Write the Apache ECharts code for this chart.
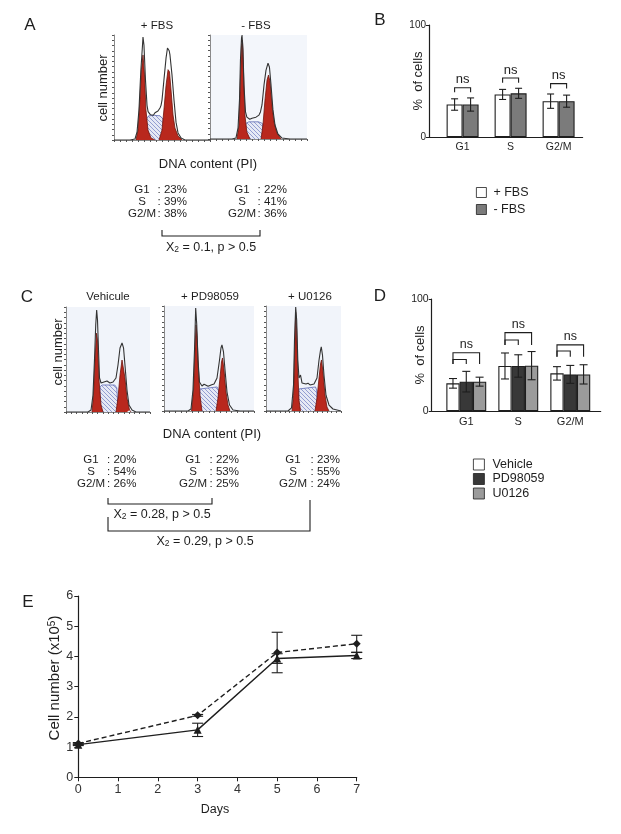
<!DOCTYPE html>
<html><head><meta charset="utf-8">
<script src="https://cdn.jsdelivr.net/npm/echarts@6/dist/echarts.min.js"></script>
<style>html,body{margin:0;padding:0;background:#fff}#c{width:621px;height:834px}</style>
</head><body><div id="c"></div>
<script>
// ---------------- DATA ----------------
// Flow-cytometry histograms: [DNA channel (0-100), cell count (0-100)]
const a1Outline = [[0,0],[16.7,0],[21.9,1],[24,7.6],[26,28.6],[28,66.7],[29.7,90.5],[30.2,98],[31.2,90.5],[32.8,57],[34.4,33],[35.5,27],[36.5,25.7],[38,24],[39.6,25],[41,23.5],[42.7,26],[44,25],[45.8,27.6],[47,27],[47.9,30.5],[49,33],[50,38],[52,57],[54.2,78],[55.7,87.6],[56.8,88],[57.5,85],[58.3,81],[60.4,62],[62.5,38],[64.6,17],[66.7,6.7],[69.8,2],[74,0],[100,0]];
const a1G1 = [[22.9,0],[25,9.5],[27,38],[28.6,67],[30.2,81],[31.8,62],[33.3,28.6],[35.4,9.5],[38.5,2],[42.7,0]];
const a1S = [[33,0],[34,20],[36,23],[42,23.5],[48,23],[51,20],[52.5,0]];
const a1G2 = [[46.9,0],[50,9.5],[52,28.6],[54.2,52],[56.3,67],[57.8,65],[59.4,47.6],[61.5,23.8],[63.5,11.4],[66.7,3.8],[70.8,0]];

const a2Outline = [[0,0],[22.7,0],[26.8,1],[28.9,10.6],[30.4,37.5],[31.4,76],[32.5,97],[33,100],[34,85.6],[35,52],[36.6,26],[38,21],[39.2,20],[41,19],[43.3,20],[45,19.5],[47.4,21],[49,21.5],[50.5,23],[52,26],[53.6,32.7],[55.7,52],[57.7,66],[59.8,73],[61.3,69],[62.9,52],[64.9,28],[67,13.5],[70,4.8],[74,1],[82.5,0],[100,0]];
const a2G1 = [[27.8,0],[29.9,13.5],[31.4,57.7],[32.5,90],[33.5,95],[34.5,66],[36,23],[38,6.7],[41.2,0]];
const a2S = [[35.5,0],[37,15],[40,16.5],[50,16.5],[54,15],[55.5,0]];
const a2G2 = [[52.6,0],[54.6,13.5],[56.7,37.5],[58.8,56.7],[60.3,61.5],[61.9,55],[63.9,32.7],[66,16.3],[69,5.8],[73.2,0]];

const c1Outline = [[0,0],[26.2,0],[29.8,1.9],[32.1,16],[33.9,49.5],[35.4,82.9],[36.5,97],[37.5,87.6],[38.7,59],[39.9,32.4],[41.7,27.6],[43.5,29],[45.2,28.6],[47,30.5],[48.8,29.5],[50.5,28],[52.4,27.6],[54,29],[56,28.6],[59.5,32.4],[61.9,44.8],[64.3,61],[66.7,65.7],[68.5,61],[70.2,44.8],[72.6,21],[75,6.7],[78.6,1.9],[83.3,0],[100,0]];
const c1G1 = [[31,0],[32.7,16],[34.5,49.5],[36.3,75],[37.5,68.6],[39.3,30.5],[41.7,6.7],[44,0]];
const c1S = [[39.5,0],[40.5,24],[43,25.7],[58,25.7],[60.5,23],[62,0]];
const c1G2 = [[59.5,0],[61.9,13.3],[64.3,35],[66.7,49.5],[68.5,47.6],[70.2,32.4],[72.6,13.3],[75.6,1.9],[77.4,0]];

const c2Outline = [[0,0],[26.7,0],[30,1.9],[32.2,20],[33.9,58],[35.2,98],[36.4,82],[37.8,48.6],[39.4,27.6],[42.2,23.8],[44.5,25.5],[46.7,24.8],[49,23.5],[51.1,22.9],[53,25],[55.6,25.7],[58.9,31.4],[61.7,48.6],[63.3,60],[64.4,62.9],[66.1,56.2],[67.8,39],[70,18],[72.8,5.7],[76.7,1],[84.4,0],[100,0]];
const c2G1 = [[30.6,0],[32.8,20],[34.4,58],[35.6,82],[36.7,72],[38.3,39],[40,15],[42.2,0]];
const c2S = [[38.5,0],[40,21],[42,22.9],[59,22.9],[60.5,20],[62,0]];
const c2G2 = [[57.8,0],[60,12.4],[62.2,31.4],[63.9,46.7],[65,50.5],[66.7,39],[68.9,18],[71.1,5.7],[73.3,0]];

const c3Outline = [[0,0],[29.3,0],[34,2.9],[36.7,24.8],[38,67.6],[39.6,99],[40.9,86.7],[42.4,48.6],[44,31.4],[46,34.3],[48,26.7],[50.5,27],[53.3,25.7],[56,26.5],[58.7,24.8],[61,26],[64,25.7],[68,31.4],[70.7,48.6],[72.7,58],[73.7,61],[75.3,53.3],[77.3,34.3],[80,15],[84,5.7],[89.3,1.9],[100,0]];
const c3G1 = [[34.7,0],[36.7,15],[38.3,58],[39.6,94],[40.9,77],[42.4,39],[44,10.5],[46,0]];
const c3S = [[42.5,0],[44,21],[46,22.9],[66,22.9],[67.5,20],[69,0]];
const c3G2 = [[65.3,0],[68,12.4],[70.7,31.4],[72.7,44.8],[74,48.6],[76,37],[78.7,15],[81.3,3.8],[84,0]];

// Panel B
const phaseCats = ['G1','S','G2/M'];
const bPlusFBS = [29, 38, 32];
const bPlusFBSErr = [5.1, 4.5, 6.4];
const bMinusFBS = [29, 39, 32];
const bMinusFBSErr = [5.9, 4.5, 5.4];
const bBrackets = [[1,44,40,0,1,1],[2,52.7,48.5,0,1,1],[3,47.7,43.2,0,1,1]]; // [cat, level, leg, bar0, bar1, label]

// Panel D
const dVehicle = [24.7, 40.2, 33.6];
const dVehicleErr = [4.3, 11.6, 6];
const dPD = [26.2, 40.2, 32.7];
const dPDErr = [9.2, 10, 8];
const dU0126 = [26.2, 40.5, 32.7];
const dU0126Err = [4, 12.6, 8.6];
const dBrackets = [[1,46,42,0,1,0],[1,52,42,0,2,1],[2,63.4,59,0,1,0],[2,70,59,0,2,1],[3,53.6,48.5,0,1,0],[3,59,48.5,0,2,1]];

// Panel E
const eDays = [0, 3, 5, 7];
const eDashedMean = [1.12, 2.05, 4.13, 4.42];
const eDashedErr = [0.03, 0.03, 0.67, 0.28];
const eSolidMean = [1.08, 1.57, 3.93, 4.03];
const eSolidErr = [0.03, 0.22, 0.16, 0.1];

// ---------------- STYLE / BUILD ----------------
const FONT = 'Liberation Sans, Arial, Helvetica, sans-serif';
const INK = '#1e1e1e';

function hatchCanvas(){
  const c = document.createElement('canvas'); c.width = 4; c.height = 4;
  const g = c.getContext('2d');
  g.fillStyle = '#e6e9f5'; g.fillRect(0,0,4,4);
  g.strokeStyle = '#6f7cc2'; g.lineWidth = 0.7;
  g.beginPath(); g.moveTo(0,0); g.lineTo(4,4); g.moveTo(-1,3); g.lineTo(1,5); g.moveTo(3,-1); g.lineTo(5,1); g.stroke();
  return c;
}
const HATCH = {image: hatchCanvas(), repeat: 'repeat'};

const histPanels = [
  {o:a1Outline, g1:a1G1, s:a1S, g2:a1G2, grid:{left:114, top:35, width:96, height:105}, bg:'#ffffff'},
  {o:a2Outline, g1:a2G1, s:a2S, g2:a2G2, grid:{left:210, top:35, width:97, height:104}, bg:'#f3f6fb'},
  {o:c1Outline, g1:c1G1, s:c1S, g2:c1G2, grid:{left:66, top:307, width:84, height:105}, bg:'#f1f4fa'},
  {o:c2Outline, g1:c2G1, s:c2S, g2:c2G2, grid:{left:164, top:306, width:90, height:105}, bg:'#f1f4fa'},
  {o:c3Outline, g1:c3G1, s:c3S, g2:c3G2, grid:{left:266, top:306, width:75, height:105}, bg:'#f1f4fa'}
];

const grids = [], xAxes = [], yAxes = [], series = [];
histPanels.forEach((p, i) => {
  grids.push(Object.assign({show:true, backgroundColor:p.bg, borderWidth:0, outerBoundsMode:'none'}, p.grid));
  const ax = (interval) => ({gridIndex:i, type:'value', min:0, max:100, interval:interval,
    axisLine:{show:true, onZero:false, lineStyle:{color:'#8a8a8a', width:1}},
    axisTick:{show:true, length:2, lineStyle:{color:'#555', width:1}},
    axisLabel:{show:false}, splitLine:{show:false}});
  xAxes.push(ax(6.25)); yAxes.push(ax(5));
  const area = (name, data, fill, stroke, z) => ({type:'line', name, data, xAxisIndex:i, yAxisIndex:i,
    symbol:'none', silent:true, z, lineStyle:{color:stroke, width:0.8}, areaStyle:{color:fill, opacity:1}});
  series.push(area('S'+i, p.s, HATCH, '#5f6bb5', 2));
  series.push(area('G1'+i, p.g1, '#b9281d', '#6e140d', 3));
  series.push(area('G2'+i, p.g2, '#b9281d', '#6e140d', 3));
  series.push({type:'line', name:'out'+i, data:p.o, xAxisIndex:i, yAxisIndex:i, symbol:'none', silent:true, z:4,
    lineStyle:{color:'#333', width:1.1}});
});

function barAxes(gi, min, max, labelSize){
  xAxes.push({gridIndex:gi, type:'value', min, max,
    axisLine:{show:true, onZero:false, lineStyle:{color:INK, width:1.2}},
    axisTick:{show:false}, splitLine:{show:false},
    axisLabel:{show:true, customValues:[1,2,3], formatter:(v)=>phaseCats[Math.round(v)-1] || '', fontSize:labelSize, color:INK, fontFamily:FONT, margin:5}});
  yAxes.push({gridIndex:gi, type:'value', min:0, max:100, interval:100,
    axisLine:{show:true, onZero:false, lineStyle:{color:INK, width:1.2}},
    axisTick:{show:true, length:3, lineStyle:{color:INK}}, splitLine:{show:false},
    axisLabel:{fontSize:labelSize-0.5, color:INK, fontFamily:FONT, margin:3}});
}

function errRender(n, bw, capW){
  return function(params, api){
    const idx = api.value(3);
    const x = api.value(0), y = api.value(1), e = api.value(2);
    const t = api.coord([x, y + e]), b = api.coord([x, y - e]);
    const cx = t[0] + (idx - (n-1)/2) * bw;
    const st = {stroke:INK, lineWidth:1.1};
    return {type:'group', children:[
      {type:'line', shape:{x1:cx, y1:t[1], x2:cx, y2:b[1]}, style:st},
      {type:'line', shape:{x1:cx-capW, y1:t[1], x2:cx+capW, y2:t[1]}, style:st},
      {type:'line', shape:{x1:cx-capW, y1:b[1], x2:cx+capW, y2:b[1]}, style:st}
    ]};
  };
}
function bracketRender(n, bw, fs){
  return function(params, api){
    const c = api.value(0), lev = api.value(1), leg = api.value(2), i0 = api.value(3), i1 = api.value(4), t = api.value(5);
    const p = api.coord([c, lev]), q = api.coord([c, leg]);
    const x0 = p[0] + (i0 - (n-1)/2) * bw, x1 = p[0] + (i1 - (n-1)/2) * bw;
    const ch = [{type:'polyline', shape:{points:[[x0,q[1]],[x0,p[1]],[x1,p[1]],[x1,q[1]]]}, style:{stroke:INK, lineWidth:1.1, fill:'none'}}];
    if (t) ch.push({type:'text', style:{text:'ns', x:(x0+x1)/2, y:p[1]-1.5, align:'center', verticalAlign:'bottom', fontSize:fs, fontFamily:FONT, fill:INK}});
    return {type:'group', children:ch};
  };
}

// Panel B (grid 5)
grids.push({left:429, top:25, width:153.6, height:112, outerBoundsMode:'none'});
barAxes(5, 0.3, 3.5, 10.5);
const bSets = [['+ FBS', bPlusFBS, bPlusFBSErr, '#ffffff'], ['- FBS', bMinusFBS, bMinusFBSErr, '#7b7b7b']];
bSets.forEach((s, k) => {
  series.push({type:'bar', name:s[0], xAxisIndex:5, yAxisIndex:5, barWidth:16, barGap:'0%',
    data:s[1].map((v,j)=>[j+1, v]), itemStyle:{color:s[3], borderColor:INK, borderWidth:1.1}, silent:true});
});
bSets.forEach((s, k) => {
  series.push({type:'custom', name:'errB'+k, xAxisIndex:5, yAxisIndex:5, z:5, clip:false, silent:true,
    renderItem:errRender(2, 16, 3.5), encode:{x:0, y:1},
    data:s[1].map((v,j)=>[j+1, v, s[2][j], k])});
});
series.push({type:'custom', name:'brB', xAxisIndex:5, yAxisIndex:5, z:5, clip:false, silent:true,
  renderItem:bracketRender(2, 16, 13), encode:{x:0, y:1}, data:bBrackets});

// Panel D (grid 6)
grids.push({left:431.7, top:299, width:169, height:112, outerBoundsMode:'none'});
barAxes(6, 0.335, 3.585, 11);
const dSets = [['Vehicle', dVehicle, dVehicleErr, '#ffffff'], ['PD98059', dPD, dPDErr, '#383838'], ['U0126', dU0126, dU0126Err, '#9b9b9b']];
dSets.forEach((s, k) => {
  series.push({type:'bar', name:s[0], xAxisIndex:6, yAxisIndex:6, barWidth:13.3, barGap:'0%',
    data:s[1].map((v,j)=>[j+1, v]), itemStyle:{color:s[3], borderColor:INK, borderWidth:1.1}, silent:true});
});
dSets.forEach((s, k) => {
  series.push({type:'custom', name:'errD'+k, xAxisIndex:6, yAxisIndex:6, z:5, clip:false, silent:true,
    renderItem:errRender(3, 13.3, 4), encode:{x:0, y:1},
    data:s[1].map((v,j)=>[j+1, v, s[2][j], k])});
});
series.push({type:'custom', name:'brD', xAxisIndex:6, yAxisIndex:6, z:5, clip:false, silent:true,
  renderItem:bracketRender(3, 13.3, 12.5), encode:{x:0, y:1}, data:dBrackets});

// Panel E (grid 7)
grids.push({left:78.3, top:596, width:278.4, height:181.3, outerBoundsMode:'none'});
xAxes.push({gridIndex:7, type:'value', min:0, max:7, interval:1,
  axisLine:{show:true, onZero:false, lineStyle:{color:INK, width:1.2}},
  axisTick:{show:true, length:4, lineStyle:{color:INK}}, splitLine:{show:false},
  axisLabel:{fontSize:12.5, color:'#333', fontFamily:FONT, margin:6}});
yAxes.push({gridIndex:7, type:'value', min:0, max:6, interval:1,
  axisLine:{show:true, onZero:false, lineStyle:{color:INK, width:1.2}},
  axisTick:{show:true, length:4, lineStyle:{color:INK}}, splitLine:{show:false},
  axisLabel:{fontSize:12.5, color:'#333', fontFamily:FONT, margin:5}});
series.push({type:'line', name:'dashed', xAxisIndex:7, yAxisIndex:7, data:eDays.map((d,i)=>[d, eDashedMean[i]]),
  symbol:'diamond', symbolSize:8, itemStyle:{color:INK}, lineStyle:{color:INK, width:1.4, type:[5,3]}, z:3, silent:true});
series.push({type:'line', name:'solid', xAxisIndex:7, yAxisIndex:7, data:eDays.map((d,i)=>[d, eSolidMean[i]]),
  symbol:'triangle', symbolSize:8, itemStyle:{color:INK}, lineStyle:{color:INK, width:1.4}, z:3, silent:true});
series.push({type:'custom', name:'errE0', xAxisIndex:7, yAxisIndex:7, z:4, clip:false, silent:true,
  renderItem:errRender(1, 0, 5.5), encode:{x:0, y:1}, data:eDays.map((d,i)=>[d, eDashedMean[i], eDashedErr[i], 0])});
series.push({type:'custom', name:'errE1', xAxisIndex:7, yAxisIndex:7, z:4, clip:false, silent:true,
  renderItem:errRender(1, 0, 5.5), encode:{x:0, y:1}, data:eDays.map((d,i)=>[d, eSolidMean[i], eSolidErr[i], 0])});

// ---------------- TEXT ANNOTATIONS ----------------
function T(text, x, y, size, o){
  o = o || {};
  const el = {type:'text', x, y, silent:true, style:{text, fontSize:size, fontFamily:FONT, fill:INK,
    align:o.align || 'center', verticalAlign:'middle'}};
  if (o.rot) el.rotation = Math.PI/2;
  if (o.rich) el.style.rich = o.rich;
  return el;
}
function L(points){ return {type:'polyline', silent:true, shape:{points}, style:{stroke:INK, lineWidth:1.1, fill:'none'}}; }
const SUB = {s:{fontSize:8.5, fontFamily:FONT, verticalAlign:'bottom', padding:[3,0,0,0]}};
const SUP = {p:{fontSize:10, fontFamily:FONT, padding:[0,0,5,0]}};

const statsA = [
  {cx:142, colon:157.5, vals:[': 23%',': 39%',': 38%']},
  {cx:242, colon:257.5, vals:[': 22%',': 41%',': 36%']}
];
const statsC = [
  {cx:91, colon:107, vals:[': 20%',': 54%',': 26%']},
  {cx:193, colon:209.5, vals:[': 22%',': 53%',': 25%']},
  {cx:293, colon:310.5, vals:[': 23%',': 55%',': 24%']}
];
const rowsA = [190, 202, 214], rowsC = [460, 472, 484];
const statLabels = ['G1','S','G2/M'];

const graphic = [
  T('A', 30, 25, 17), T('B', 380, 20, 17), T('C', 27, 297, 17), T('D', 380, 296, 17), T('E', 28, 602, 17),
  T('+ FBS', 157, 26, 11.5), T('- FBS', 256, 26, 11.5),
  T('cell number', 103, 88, 13, {rot:true}),
  T('DNA content (PI)', 208, 164, 13),
  L([[162,230],[162,236],[260,236],[260,230]]),
  T('X{s|2} = 0.1, p > 0.5', 211, 248, 12.5, {rich:SUB}),
  T('Vehicule', 108, 297, 11.5), T('+ PD98059', 210, 297, 11.5), T('+ U0126', 310, 297, 11.5),
  T('cell number', 58, 352, 13, {rot:true}),
  T('DNA content (PI)', 212, 434, 13),
  L([[108,498],[108,504],[212,504],[212,498]]),
  T('X{s|2} = 0.28, p > 0.5', 162, 515, 12.5, {rich:SUB}),
  L([[108,517],[108,531],[310,531],[310,500]]),
  T('X{s|2} = 0.29, p > 0.5', 205, 542, 12.5, {rich:SUB}),
  T('%  of cells', 418, 81, 13, {rot:true}),
  T('%  of cells', 420, 355, 13, {rot:true}),
  T('Cell number (x10{p|5})', 55, 678, 15, {rot:true, rich:SUP}),
  T('Days', 215, 810, 12.5)
];
statsA.forEach(b => rowsA.forEach((y, r) => { graphic.push(T(statLabels[r], b.cx, y, 11.5)); graphic.push(T(b.vals[r], b.colon, y, 11.5, {align:'left'})); }));
statsC.forEach(b => rowsC.forEach((y, r) => { graphic.push(T(statLabels[r], b.cx, y, 11.5)); graphic.push(T(b.vals[r], b.colon, y, 11.5, {align:'left'})); }));

const legendText = {fontSize:12.5, fontFamily:FONT, color:INK, lineHeight:11, padding:[0,0,0,2]};
const option = {
  animation:false,
  backgroundColor:'#ffffff',
  textStyle:{fontFamily:FONT},
  grid:grids, xAxis:xAxes, yAxis:yAxes, series,
  legend:[
    {data:['+ FBS','- FBS'], orient:'vertical', left:471, top:181, itemWidth:10, itemHeight:10, itemGap:4, icon:'rect', selectedMode:false,
      itemStyle:{borderWidth:0.8}, textStyle:legendText},
    {data:['Vehicle','PD98059','U0126'], orient:'vertical', left:468, top:453, itemWidth:11, itemHeight:11, itemGap:1.5, icon:'rect', selectedMode:false,
      itemStyle:{borderWidth:0.8}, textStyle:Object.assign({}, legendText, {padding:[0,0,0,3]})}
  ],
  graphic
};
const chart = echarts.init(document.getElementById('c'), null, {renderer:'canvas'});
chart.setOption(option);
</script>
</body></html>
